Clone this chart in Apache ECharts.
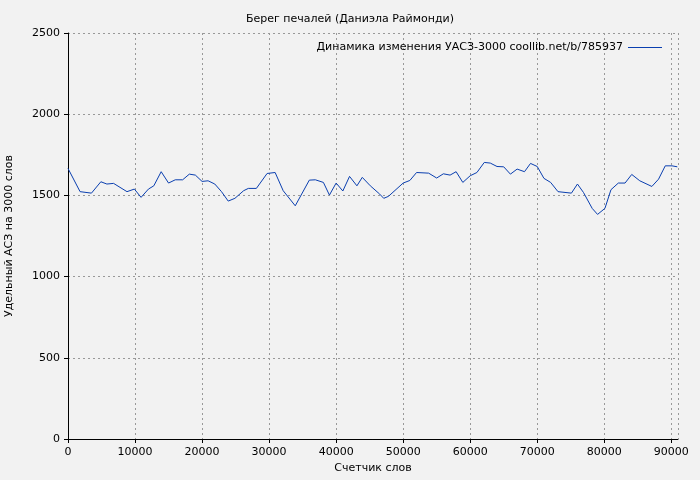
<!DOCTYPE html>
<html>
<head>
<meta charset="utf-8">
<script src="https://cdn.jsdelivr.net/npm/echarts@6/dist/echarts.min.js"></script>
<style>html,body{margin:0;padding:0;background:#f2f2f2}#chart{width:700px;height:480px}</style>
</head>
<body>
<div id="chart"></div>
<script>
// счетчик слов и УАСЗ
var words = [0, 1800, 3500, 4900, 5800, 6800, 8800, 9900, 10900, 12000, 12800, 13900, 15000, 16000, 17100, 18100, 19000, 20000, 20900, 21900, 22900, 23900, 24900, 26200, 26900, 28100, 29700, 30900, 32100, 33900, 36000, 36900, 38100, 39000, 40000, 41000, 42000, 43100, 43900, 45100, 46500, 47100, 47800, 50000, 51000, 52000, 53800, 55000, 56000, 57000, 57900, 58900, 60000, 61000, 62100, 63000, 64000, 65000, 66000, 67000, 68100, 69000, 70000, 71000, 72000, 73100, 75100, 76000, 76900, 78200, 79000, 80100, 81000, 82100, 83100, 84100, 85300, 87100, 88100, 89100, 90100, 90900];
var values = [1666, 1523, 1514, 1584, 1570, 1574, 1523, 1539, 1488, 1539, 1559, 1646, 1576, 1596, 1596, 1631, 1625, 1586, 1590, 1570, 1523, 1465, 1482, 1529, 1543, 1543, 1635, 1641, 1529, 1436, 1594, 1596, 1580, 1502, 1576, 1527, 1617, 1559, 1611, 1559, 1508, 1482, 1494, 1576, 1592, 1641, 1637, 1607, 1633, 1625, 1646, 1580, 1621, 1641, 1703, 1699, 1678, 1676, 1631, 1662, 1646, 1697, 1678, 1605, 1580, 1523, 1514, 1570, 1518, 1420, 1383, 1420, 1535, 1576, 1576, 1629, 1590, 1555, 1600, 1682, 1682, 1676];
var seriesName = 'Динамика изменения УАСЗ-3000 coollib.net/b/785937';

var font = 'DejaVu Sans';
var data = [];
for (var i = 0; i < words.length; i++) data.push([words[i], values[i]]);

var chart = echarts.init(document.getElementById('chart'));
var grid = {lineStyle: {color: '#999', type: [2, 3], width: 1}};
var plain = function (v) { return String(v); };
chart.setOption({
    backgroundColor: '#f2f2f2',
    animation: false,
    textStyle: {fontFamily: font},
    title: {
        text: 'Берег печалей (Даниэла Раймонди)',
        left: 'center', top: 9,
        textStyle: {fontSize: 11, fontWeight: 'normal', color: '#000', fontFamily: font}
    },
    legend: {
        right: 33, top: 37, align: 'right',
        itemWidth: 34, itemHeight: 1, itemGap: 5,
        icon: 'rect',
        textStyle: {fontSize: 11, color: '#000', fontFamily: font},
        data: [seriesName]
    },
    grid: {left: 68, right: 22, top: 33, bottom: 41, containLabel: false, outerBoundsMode: 'none'},
    xAxis: {
        type: 'value', min: 0, max: 91000, interval: 10000,
        name: 'Счетчик слов', nameLocation: 'middle', nameGap: 24,
        nameTextStyle: {fontSize: 11, color: '#000'},
        axisLine: {lineStyle: {color: '#000'}},
        axisTick: {lineStyle: {color: '#000'}, length: 4},
        axisLabel: {fontSize: 11, color: '#000', formatter: plain},
        splitLine: grid
    },
    yAxis: {
        type: 'value', min: 0, max: 2500, interval: 500,
        name: 'Удельный АСЗ на 3000 слов', nameLocation: 'middle', nameGap: 53,
        nameTextStyle: {fontSize: 11, color: '#000'},
        axisLine: {show: true, lineStyle: {color: '#000'}},
        axisTick: {show: true, lineStyle: {color: '#000'}, length: 4},
        axisLabel: {fontSize: 11, color: '#000', formatter: plain},
        splitLine: grid
    },
    series: [{
        name: seriesName,
        type: 'line',
        data: data,
        symbol: 'none',
        lineStyle: {color: '#0a3fb0', width: 1},
        itemStyle: {color: '#0a3fb0'}
    }]
});
</script>
</body>
</html>
